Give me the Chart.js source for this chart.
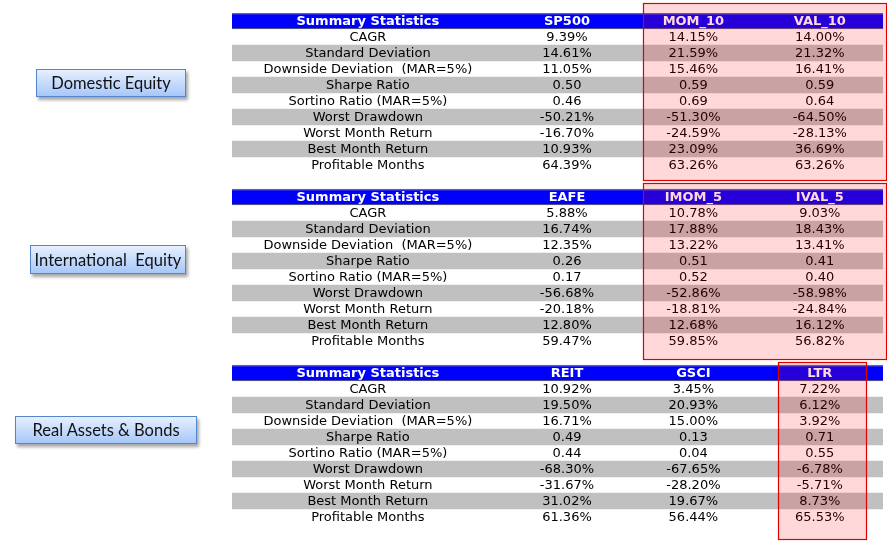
<!DOCTYPE html>
<html>
<head>
<meta charset="utf-8">
<title>Summary Statistics</title>
<script src="https://cdn.jsdelivr.net/npm/chart.js@4.4.1/dist/chart.umd.min.js"></script>
<style>
  body { margin: 0; background: #fff; }
  #page { position: relative; width: 887px; height: 546px; overflow: hidden; }
  #table-chart { position: absolute; left: 0; top: 0; }
  .group-btn {
    position: absolute;
    box-sizing: border-box;
    border: 1px solid #5585cc;
    background: linear-gradient(#e6f0ff, #a7c7f9);
    box-shadow: 2px 3px 3px rgba(0, 0, 0, 0.35);
    font-family: Lato, sans-serif;
    font-size: 16.5px;
    color: #111;
    display: flex;
    align-items: center;
    justify-content: center;
    white-space: pre;
  }
</style>
</head>
<body>
<div id="page">
  <canvas id="table-chart" width="887" height="546"></canvas>
</div>
<script>
// ---- data ----
const groups = ["Domestic Equity", "International  Equity", "Real Assets & Bonds"];
const statLabels = [
  "CAGR",
  "Standard Deviation",
  "Downside Deviation  (MAR=5%)",
  "Sharpe Ratio",
  "Sortino Ratio (MAR=5%)",
  "Worst Drawdown",
  "Worst Month Return",
  "Best Month Return",
  "Profitable Months",
];
const ratioRows = [3, 4]; // Sharpe / Sortino are shown as plain ratios, the rest as %

const domesticNames = ["SP500", "MOM_10", "VAL_10"];
const sp500 = [9.39, 14.61, 11.05, 0.5, 0.46, -50.21, -16.7, 10.93, 64.39];
const mom10 = [14.15, 21.59, 15.46, 0.59, 0.69, -51.3, -24.59, 23.09, 63.26];
const val10 = [14.0, 21.32, 16.41, 0.59, 0.64, -64.5, -28.13, 36.69, 63.26];

const intlNames = ["EAFE", "IMOM_5", "IVAL_5"];
const eafe = [5.88, 16.74, 12.35, 0.26, 0.17, -56.68, -20.18, 12.8, 59.47];
const imom5 = [10.78, 17.88, 13.22, 0.51, 0.52, -52.86, -18.81, 12.68, 59.85];
const ival5 = [9.03, 18.43, 13.41, 0.41, 0.4, -58.98, -24.84, 16.12, 56.82];

const realNames = ["REIT", "GSCI", "LTR"];
const reit = [10.92, 19.5, 16.71, 0.49, 0.44, -68.3, -31.67, 31.02, 61.36];
const gsci = [3.45, 20.93, 15.0, 0.13, 0.04, -67.65, -28.2, 19.67, 56.44];
const ltr = [7.22, 6.12, 3.92, 0.71, 0.55, -6.78, -5.71, 8.73, 65.53];

const tables = [
  { names: domesticNames, cols: [sp500, mom10, val10] },
  { names: intlNames, cols: [eafe, imom5, ival5] },
  { names: realNames, cols: [reit, gsci, ltr] },
];

// ---- layout (column units on x, row index on y) ----
const colEdges = [0, 2.15, 3.15, 4.15, 5.15];
const rowsPerTable = 11; // header + 9 stats + spacer
const highlights = [
  { x0: 3.25, x1: 5.17, y0: -1.12, y1: 9.94 },
  { x0: 3.25, x1: 5.17, y0: 10.12, y1: 21.12 },
  { x0: 4.32, x1: 5.02, y0: 21.31, y1: 32.38 },
];
const btnBoxes = [
  { left: 36, top: 69, width: 150, height: 28 },
  { left: 30, top: 245, width: 156, height: 29 },
  { left: 15, top: 416, width: 182, height: 28 },
];

const fmt = (v, r) => ratioRows.includes(r) ? v.toFixed(2) : v.toFixed(2) + "%";

// one category per grid row
const rowKeys = [];
const rowKind = [];
tables.forEach((t, ti) => {
  for (let r = 0; r < rowsPerTable; r++) {
    rowKeys.push("t" + ti + "r" + r);
    if (r === 0) rowKind.push("head");
    else if (r <= statLabels.length && r % 2 === 0) rowKind.push("grey");
    else rowKind.push("blank");
  }
});
const bandData = rowKind.map(k => (k === "blank" ? null : [colEdges[0], colEdges[colEdges.length - 1]]));

const TEXT_FONT = '13px "DejaVu Sans"';
const HEAD_FONT = 'bold 13px "DejaVu Sans"';

const tableText = {
  id: "tableText",
  afterDatasetsDraw(chart) {
    const { ctx, scales: { x, y } } = chart;
    const colMid = i => x.getPixelForValue((colEdges[i] + colEdges[i + 1]) / 2);
    ctx.save();
    ctx.textAlign = "center";
    ctx.textBaseline = "middle";
    tables.forEach((t, ti) => {
      const base = ti * rowsPerTable;
      const hy = y.getPixelForValue(base) + 1;
      ctx.font = HEAD_FONT;
      ctx.fillStyle = "#fff";
      ctx.fillText("Summary Statistics", colMid(0), hy);
      t.names.forEach((n, ci) => ctx.fillText(n, colMid(ci + 1), hy));
      ctx.font = TEXT_FONT;
      ctx.fillStyle = "#000";
      statLabels.forEach((lab, r) => {
        const ry = y.getPixelForValue(base + r + 1) + 1;
        ctx.fillText(lab, colMid(0), ry);
        t.cols.forEach((col, ci) => ctx.fillText(fmt(col[r], r), colMid(ci + 1), ry));
      });
    });
    // highlighted comparison boxes, drawn over the cells
    highlights.forEach(h => {
      const left = x.getPixelForValue(h.x0);
      const right = x.getPixelForValue(h.x1);
      const top = y.getPixelForValue(h.y0);
      const bottom = y.getPixelForValue(h.y1);
      ctx.fillStyle = "rgba(255, 0, 0, 0.15)";
      ctx.fillRect(left, top, right - left, bottom - top);
      ctx.strokeStyle = "#e00000";
      ctx.lineWidth = 1.2;
      ctx.strokeRect(Math.round(left) + 0.5, Math.round(top) + 0.5, Math.round(right - left), Math.round(bottom - top));
    });
    ctx.restore();
  },
};

new Chart("table-chart", {
  type: "bar",
  data: {
    labels: rowKeys,
    datasets: [
      {
        label: "rows",
        data: bandData,
        backgroundColor: ctx => (rowKind[ctx.dataIndex] === "head" ? "#0000ff" : "#c0c0c0"),
        borderColor: "#6a6a6a",
        borderWidth: ctx => (rowKind[ctx.dataIndex] === "head" ? { top: 1.5, bottom: 1, left: 0, right: 0 } : 0),
        borderSkipped: false,
        barPercentage: 1,
        categoryPercentage: 1,
      },
    ],
  },
  options: {
    indexAxis: "y",
    responsive: false,
    animation: false,
    layout: { padding: { left: 232, top: 13, right: 4, bottom: 5 } },
    scales: {
      x: { type: "linear", min: colEdges[0], max: colEdges[colEdges.length - 1], display: false },
      y: { display: false },
    },
    plugins: { legend: { display: false }, tooltip: { enabled: false } },
  },
  plugins: [tableText],
});

// group buttons on the left
const page = document.getElementById("page");
groups.forEach((g, i) => {
  const b = document.createElement("div");
  b.className = "group-btn";
  b.textContent = g;
  Object.assign(b.style, {
    left: btnBoxes[i].left + "px",
    top: btnBoxes[i].top + "px",
    width: btnBoxes[i].width + "px",
    height: btnBoxes[i].height + "px",
  });
  page.appendChild(b);
});
</script>
</body>
</html>
